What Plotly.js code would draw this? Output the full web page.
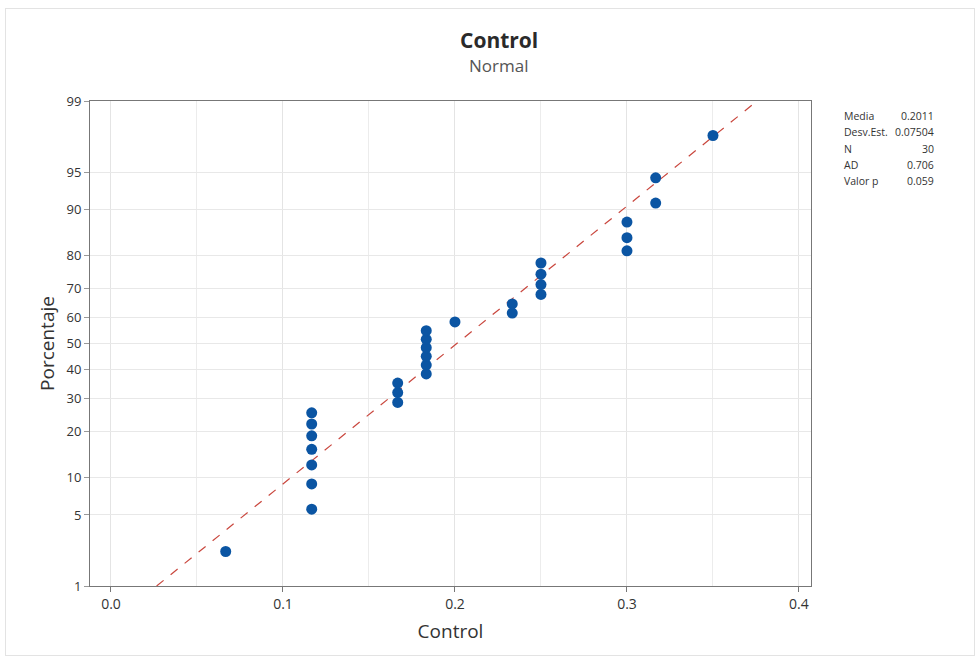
<!DOCTYPE html>
<html>
<head>
<meta charset="utf-8">
<script src="https://cdn.plot.ly/plotly-3.0.1.min.js"></script>
<style>
  body { margin: 0; background: #fff; }
  #wrap { position: relative; width: 979px; height: 659px; }
  #chart { width: 979px; height: 659px; }
  #frame { position: absolute; left: 5px; top: 8px; width: 968px; height: 646px; border: 1px solid #e3e3e3; pointer-events: none; }
</style>
</head>
<body>
<div id="wrap"><div id="chart"></div><div id="frame"></div></div>
<script>
// ---- data ----
const controlValues = [0.0667,
  0.1167, 0.1167, 0.1167, 0.1167, 0.1167, 0.1167, 0.1167,
  0.1667, 0.1667, 0.1667,
  0.1833, 0.1833, 0.1833, 0.1833, 0.1833, 0.1833,
  0.2000,
  0.2333, 0.2333,
  0.2500, 0.2500, 0.2500, 0.2500,
  0.3000, 0.3000, 0.3000,
  0.3167, 0.3167,
  0.3500];
const percentValues = [2.3, 5.6, 8.9, 12.2, 15.5, 18.8, 22.0, 25.3, 28.6, 31.9,
  35.2, 38.5, 41.8, 45.1, 48.4, 51.6, 54.9, 58.2, 61.5, 64.8,
  68.1, 71.4, 74.7, 78.0, 81.3, 84.5, 87.8, 91.1, 94.4, 97.7];
const yTickPercents = [1, 5, 10, 20, 30, 40, 50, 60, 70, 80, 90, 95, 99];
const xTickValues = [0.0, 0.1, 0.2, 0.3, 0.4];
const fitMean = 0.2011;
const fitStdDev = 0.07504;
const statLabels = ["Media", "Desv.Est.", "N", "AD", "Valor p"];
const statValues = ["0.2011", "0.07504", "30", "0.706", "0.059"];

// ---- inverse normal CDF (probability-scale transform) ----
function normInv(p) {
  const a = [-3.969683028665376e+01, 2.209460984245205e+02, -2.759285104469687e+02, 1.383577518672690e+02, -3.066479806614716e+01, 2.506628277459239e+00];
  const b = [-5.447609879822406e+01, 1.615858368580409e+02, -1.556989798598866e+02, 6.680131188771972e+01, -1.328068155288572e+01];
  const c = [-7.784894002430293e-03, -3.223964580411365e-01, -2.400758277161838e+00, -2.549732539343734e+00, 4.374664141464968e+00, 2.938163982698783e+00];
  const d = [7.784695709041462e-03, 3.224671290700398e-01, 2.445134137142996e+00, 3.754408661907416e+00];
  const pl = 0.02425, ph = 1 - pl;
  let q, r;
  if (p < pl) {
    q = Math.sqrt(-2 * Math.log(p));
    return (((((c[0]*q+c[1])*q+c[2])*q+c[3])*q+c[4])*q+c[5]) / ((((d[0]*q+d[1])*q+d[2])*q+d[3])*q+1);
  } else if (p <= ph) {
    q = p - 0.5; r = q * q;
    return (((((a[0]*r+a[1])*r+a[2])*r+a[3])*r+a[4])*r+a[5])*q / (((((b[0]*r+b[1])*r+b[2])*r+b[3])*r+b[4])*r+1);
  } else {
    q = Math.sqrt(-2 * Math.log(1 - p));
    return -(((((c[0]*q+c[1])*q+c[2])*q+c[3])*q+c[4])*q+c[5]) / ((((d[0]*q+d[1])*q+d[2])*q+d[3])*q+1);
  }
}

const yPoints = percentValues.map(p => normInv(p / 100));
const yTickVals = yTickPercents.map(p => normInv(p / 100));
const zLow = normInv(0.01), zHigh = normInv(0.99);
const fitX = [fitMean + zLow * fitStdDev, fitMean + zHigh * fitStdDev];
const fitY = [zLow, zHigh];

const font = "'Open Sans', 'Noto Sans', sans-serif";

const traces = [
  {
    x: fitX, y: fitY, type: 'scatter', mode: 'lines',
    line: { color: '#c9463d', width: 1.2, dash: 'dash' },
    hoverinfo: 'skip', showlegend: false
  },
  {
    x: controlValues, y: yPoints, type: 'scatter', mode: 'markers',
    marker: { color: '#0b55a3', size: 11, symbol: 'circle', line: { width: 0 } },
    showlegend: false
  }
];

const annotations = [
  { text: '<b>Control</b>', xref: 'paper', yref: 'paper', x: 0.567, y: 1.0 + (101 - 40) / 485, xanchor: 'center', yanchor: 'middle', showarrow: false, font: { family: font, size: 21, color: '#2a2a2a' } },
  { text: 'Normal', xref: 'paper', yref: 'paper', x: 0.567, y: 1.0 + (101 - 65) / 485, xanchor: 'center', yanchor: 'middle', showarrow: false, font: { family: font, size: 17, color: '#555' } }
];
statLabels.forEach((lab, i) => {
  const yy = 1.0 + (101 - (116 + i * 16.3)) / 485;
  annotations.push({ text: lab, xref: 'paper', yref: 'paper', x: (842 - 90) / 721, y: yy, xanchor: 'left', yanchor: 'middle', showarrow: false, font: { family: font, size: 10.5, color: '#333' } });
  annotations.push({ text: statValues[i], xref: 'paper', yref: 'paper', x: (936 - 90) / 721, y: yy, xanchor: 'right', yanchor: 'middle', showarrow: false, font: { family: font, size: 10.5, color: '#333' } });
});

const layout = {
  width: 979, height: 659,
  margin: { l: 90, r: 168, t: 101, b: 73 },
  paper_bgcolor: '#ffffff', plot_bgcolor: '#ffffff',
  font: { family: font, color: '#333' },
  showlegend: false,
  xaxis: {
    range: [-0.0122, 0.407],
    tickvals: xTickValues, ticktext: xTickValues.map(v => v.toFixed(1)),
    ticks: 'outside', ticklen: 5, tickcolor: '#777',
    tickfont: { size: 14, color: '#333' },
    showgrid: true, gridcolor: '#e4e4e4', gridwidth: 1,
    minor: { dtick: 0.05, tick0: 0, showgrid: true, gridcolor: '#ececec', ticks: '' },
    showline: true, linecolor: '#777', linewidth: 1, mirror: true,
    zeroline: false,
    title: { text: 'Control', font: { size: 19, color: '#333' }, standoff: 12 }
  },
  yaxis: {
    range: [zLow, zHigh],
    tickvals: yTickVals, ticktext: yTickPercents.map(String),
    ticks: 'outside', ticklen: 5, tickcolor: '#999',
    tickfont: { size: 13, color: '#333' },
    showgrid: true, gridcolor: '#e8e8e8', gridwidth: 1,
    showline: true, linecolor: '#777', linewidth: 1, mirror: true,
    zeroline: false,
    title: { text: 'Porcentaje', font: { size: 19, color: '#333' }, standoff: 6 }
  },
  annotations: annotations
};

Plotly.newPlot('chart', traces, layout, { displayModeBar: false, staticPlot: true });
</script>
</body>
</html>
